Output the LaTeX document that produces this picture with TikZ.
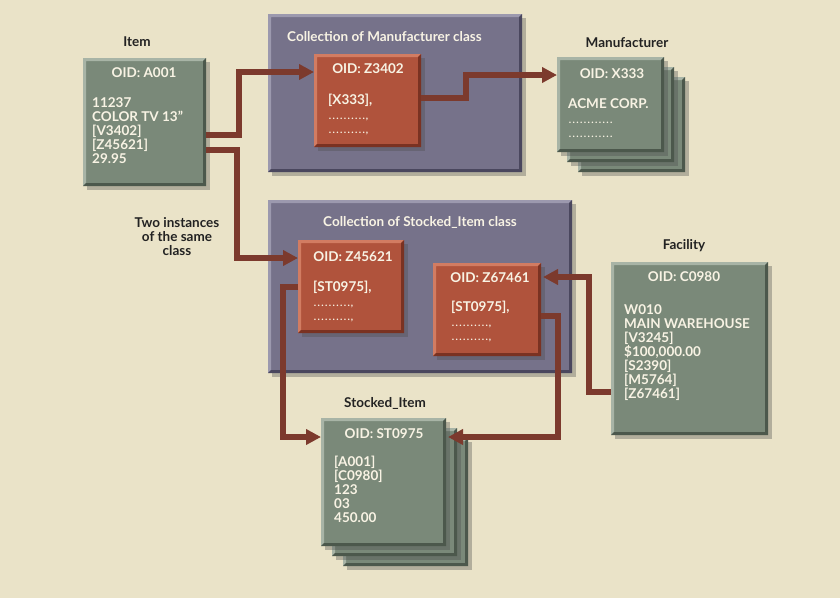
\documentclass[tikz,border=0pt]{standalone}
\usepackage{fontspec}
\setmainfont{Lato}
\usetikzlibrary{arrows.meta,shadows,calc}
\definecolor{bgc}{HTML}{EAE3C8}
\definecolor{grn}{HTML}{7A8979}
\definecolor{grnL}{HTML}{A8B4A6}
\definecolor{grnD}{HTML}{4C584C}
\definecolor{pur}{HTML}{76728A}
\definecolor{purL}{HTML}{9C99AE}
\definecolor{purD}{HTML}{4A475E}
\definecolor{red}{HTML}{B0533C}
\definecolor{redL}{HTML}{D27C62}
\definecolor{redD}{HTML}{7A3222}
\definecolor{arr}{HTML}{7C3A2D}
\definecolor{wtxt}{HTML}{F8F3E4}
\definecolor{dtxt}{HTML}{222222}
\tikzset{
  bevel/.style 2 args={path picture={
    \fill[#1] (path picture bounding box.north west) -- (path picture bounding box.north east)
      -- ([xshift=-3pt,yshift=-3pt]path picture bounding box.north east)
      -- ([xshift=3pt,yshift=-3pt]path picture bounding box.north west)
      -- ([xshift=3pt,yshift=3pt]path picture bounding box.south west)
      -- (path picture bounding box.south west) -- cycle;
    \fill[#2] (path picture bounding box.south east) -- (path picture bounding box.north east)
      -- ([xshift=-3pt,yshift=-3pt]path picture bounding box.north east)
      -- ([xshift=-3pt,yshift=3pt]path picture bounding box.south east)
      -- ([xshift=3pt,yshift=3pt]path picture bounding box.south west)
      -- (path picture bounding box.south west) -- cycle;
  }},
  boxbase/.style={anchor=north west, inner sep=0pt, outer sep=0pt,
    drop shadow={shadow xshift=4pt, shadow yshift=-4pt, opacity=0.35, fill=black!70}},
  gbox/.style={boxbase, fill=grn, bevel={grnL}{grnD}},
  pbox/.style={boxbase, fill=pur, bevel={purL}{purD}},
  rbox/.style={boxbase, fill=red, bevel={redL}{redD}},
  oid/.style={text=wtxt, font=\bfseries\fontsize{13.5}{14}\selectfont, inner sep=0pt},
  body/.style={text=wtxt, font=\bfseries\fontsize{13.5}{14}\selectfont, inner sep=0pt, align=left, anchor=north west},
  ttl/.style={text=dtxt, font=\bfseries\fontsize{13.5}{14}\selectfont, inner sep=0pt},
  ctl/.style={text=wtxt, font=\bfseries\fontsize{13.5}{14}\selectfont, inner sep=0pt},
  conn/.style={draw=arr, line width=6pt, -{Triangle[length=15pt,width=15pt]}},
}
\newcommand{\onedot}{\makebox[3.75pt]{.}}
\newcommand{\dotrow}{{\fontsize{10}{10}\selectfont\onedot\onedot\onedot\onedot\onedot\onedot\onedot\onedot\onedot\onedot,}}
\newcommand{\dotrowb}{{\fontsize{10}{10}\selectfont\onedot\onedot\onedot\onedot\onedot\onedot\onedot\onedot\onedot\onedot\onedot\onedot}}
\begin{document}
\begin{tikzpicture}[x=1pt,y=-1pt]
\fill[bgc] (0,0) rectangle (840,598);
\useasboundingbox (0,0) rectangle (840,598);

% Item
\node[ttl] (tItem) at (137,42) {Item};
\node[gbox, minimum width=123pt, minimum height=128pt] (item) at (83,58) {};
\node[oid] (oItem) at (144,73) {OID: A001};
\node[body] (bItem) at (92,97) {11237\\COLOR TV 13"\\{[V3402]}\\{[Z45621]}\\29.95};

% Collection of Manufacturer
\node[pbox, minimum width=254pt, minimum height=158pt] (mcoll) at (268,14) {};
\node[ctl, anchor=west] (tmcoll) at (287,37) {Collection of Manufacturer class};
\node[rbox, minimum width=107pt, minimum height=93pt] (z3402) at (314,54) {};
\node[oid] (oz3402) at (368,69) {OID: Z3402};
\node[body] (bz3402) at (328,94) {{[X333]},\\[1pt]\dotrow\\\dotrow};

% Manufacturer stack
\node[ttl] (tmfr) at (627,43) {Manufacturer};
\node[gbox, minimum width=107pt, minimum height=95pt] (mfr2) at (578,77) {};
\node[gbox, minimum width=107pt, minimum height=95pt] (mfr1) at (567,67) {};
\node[gbox, minimum width=107pt, minimum height=95pt] (mfr) at (557,57) {};
\node[oid] (omfr) at (612,74) {OID: X333};
\node[body] (bmfr) at (568,98) {ACME CORP.\\[1pt]\dotrowb\\\dotrowb};

% Collection of Stocked_Item
\node[pbox, minimum width=304pt, minimum height=173pt] (scoll) at (268,200) {};
\node[ctl] (tscoll) at (420,222) {Collection of Stocked\_Item class};
\node[rbox, minimum width=106pt, minimum height=93pt] (z45621) at (298,240) {};
\node[oid] (oz45621) at (353,257) {OID: Z45621};
\node[body] (bz45621) at (313,281) {{[ST0975]},\\[1pt]\dotrow\\\dotrow};
\node[rbox, minimum width=108pt, minimum height=93pt] (z67461) at (433,263) {};
\node[oid] (oz67461) at (490,278) {OID: Z67461};
\node[body] (bz67461) at (451,301) {{[ST0975]},\\[1pt]\dotrow\\\dotrow};

% Two instances
\node[ttl, align=center] (tinst) at (177,237) {Two instances\\of the same\\class};

% Facility
\node[ttl] (tfac) at (684,246) {Facility};
\node[gbox, minimum width=157pt, minimum height=173pt] (fac) at (611,262) {};
\node[oid] (ofac) at (684,277) {OID: C0980};
\node[body] (bfac) at (624,304) {W010\\MAIN WAREHOUSE\\{[V3245]}\\\$100,000.00\\{[S2390]}\\{[M5764]}\\{[Z67461]}};

% Stocked_Item stack
\node[ttl] (tstock) at (385,403) {Stocked\_Item};
\node[gbox, minimum width=125pt, minimum height=128pt] (stock2) at (343,438) {};
\node[gbox, minimum width=125pt, minimum height=128pt] (stock1) at (332,428) {};
\node[gbox, minimum width=125pt, minimum height=128pt] (stock) at (321,418) {};
\node[oid] (ostock) at (384,434) {OID: ST0975};
\node[body] (bstock) at (334,456) {{[A001]}\\{[C0980]}\\123\\03\\450.00};

% connectors
\draw[conn] ([yshift=-77pt]item.north east) -- ++(33,0) |- ([yshift=-18pt]z3402.north west);
\draw[conn] ([yshift=-92pt]item.north east) -- ++(31,0) |- ([yshift=-18pt]z45621.north west);
\draw[conn] ([yshift=-44pt]z3402.north east) -- ++(45,0) |- ([yshift=-18pt]mfr.north west);
\draw[conn] ([yshift=-47pt]z45621.north west) -- ++(-15,0) |- ([yshift=-19pt]stock.north west);
\draw[conn] ([yshift=-53pt]z67461.north east) -- ++(17,0) |- ([yshift=-19pt,xshift=2pt]stock.north east);
\draw[conn] ([yshift=-130pt]fac.north west) -- ++(-22,0) |- ([yshift=-14pt,xshift=2pt]z67461.north east);
\end{tikzpicture}
\end{document}
